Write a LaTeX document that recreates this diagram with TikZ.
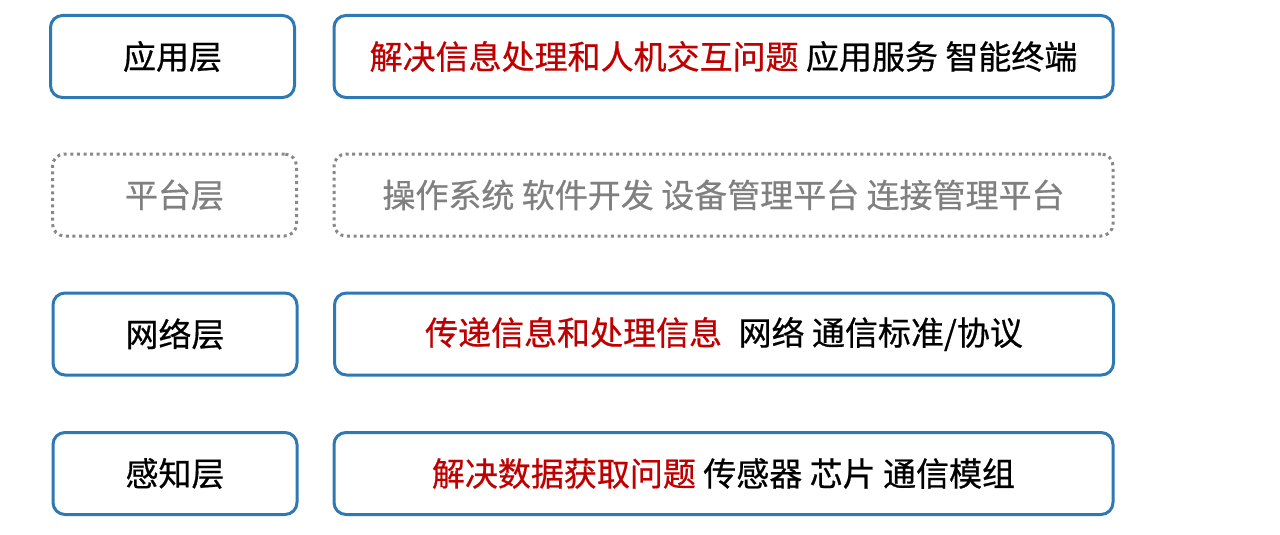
\documentclass[tikz,border=0pt]{standalone}
\usepackage{fontspec}
\setmainfont{Noto Sans CJK SC}[FakeBold=0.6]
\definecolor{boxblue}{RGB}{46,120,180}
\definecolor{txtred}{RGB}{192,0,0}
\definecolor{dotgray}{RGB}{136,136,136}
\definecolor{txtgray}{RGB}{128,128,128}
\tikzset{
  layerbox/.style={draw=boxblue, line width=3pt, rounded corners=12pt, fill=white,
    minimum height=82pt, inner sep=0pt, font=\fontsize{33}{38}\selectfont, text=black},
  dotbox/.style={draw=dotgray, line width=3pt, rounded corners=12pt, dash pattern=on 3pt off 3.6pt,
    minimum height=82pt, inner sep=0pt, font=\fontsize{33}{38}\selectfont, text=txtgray},
  leftw/.style={minimum width=244pt},
  rightw/.style={minimum width=779pt},
}
\begin{document}
\begin{tikzpicture}[x=1pt,y=-1pt]
\useasboundingbox (0,0) rectangle (1280,535);
\node[layerbox,leftw] (l1) at (172.5,56.5) {应用层};
\node[layerbox,rightw] (r1) at (723.5,56.5) {\textcolor{txtred}{解决信息处理和人机交互问题} 应用服务 智能终端};
\node[dotbox,leftw] (l2) at (174.5,195) {平台层};
\node[dotbox,rightw] (r2) at (723.5,195) {操作系统 软件开发 设备管理平台 连接管理平台};
\node[layerbox,leftw] (l3) at (175,334) {网络层};
\node[layerbox,rightw] (r3) at (724,334) {\textcolor{txtred}{传递信息和处理信息}\hspace{0.5em}网络 通信标准/协议};
\node[layerbox,leftw] (l4) at (175,473.5) {感知层};
\node[layerbox,rightw] (r4) at (723.5,473.5) {\textcolor{txtred}{解决数据获取问题} 传感器 芯片 通信模组};
\end{tikzpicture}
\end{document}
